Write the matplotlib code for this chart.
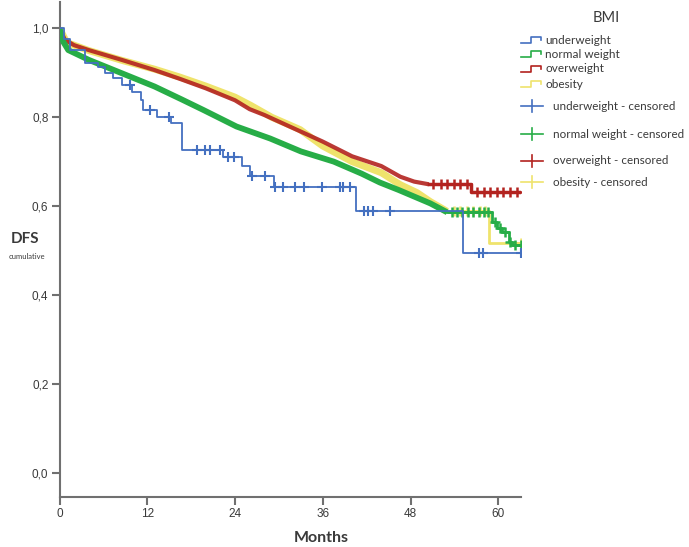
import numpy as np
import matplotlib
matplotlib.use("Agg")
import matplotlib.pyplot as plt

# --- data (months, cumulative DFS) ---
under_t = [0, 0.6, 1.5, 3.5, 5.3, 6.2, 7.3, 8.5, 9.9, 11.2, 11.4, 13.3, 15.3, 16.7,
           22.4, 24.9, 26.1, 29.3, 40.5, 55.2, 63.1]
under_s = [1.0, 0.975, 0.952, 0.922, 0.914, 0.899, 0.888, 0.872, 0.857, 0.839, 0.816,
           0.801, 0.786, 0.726, 0.710, 0.690, 0.668, 0.642, 0.590, 0.495, 0.495]
under_cens = [9.6, 12.4, 15.0, 18.8, 19.9, 20.6, 22.0, 23.1, 23.8, 26.3, 28.1, 29.5, 30.6,
              32.2, 33.4, 35.9, 38.4, 38.8, 39.7, 41.6, 42.2, 42.9, 45.2, 57.4, 57.9, 63.1]

# dense part (hundreds of tiny steps) and sparse tail (visible steps)
normal_t = [0, 0.5, 1.2, 4.0, 8.5, 13.0, 16.7, 19.7, 24.2, 28.8, 33.0, 37.5, 41.3, 43.8,
            46.4, 50.7, 53.0]
normal_s = [1.0, 0.97, 0.951, 0.929, 0.899, 0.869, 0.840, 0.816, 0.779, 0.752, 0.723, 0.700,
            0.673, 0.653, 0.636, 0.606, 0.586]
normal_tail_t = [53.0, 59.1, 59.8, 60.5, 61.4, 61.9, 63.2]
normal_tail_s = [0.586, 0.565, 0.550, 0.542, 0.520, 0.512, 0.512]
normal_cens = [53.6, 54.3, 55.0, 55.8, 56.5, 57.3, 58.0, 58.6, 59.5, 60.2, 60.9, 61.6, 62.3, 63.1]

over_t = [0, 0.75, 2.0, 4.0, 8.5, 13.0, 16.5, 20.0, 24.0, 26.0, 28.0, 32.0, 36.0, 40.0,
          44.0, 46.6, 48.5, 50.5]
over_s = [1.0, 0.974, 0.962, 0.951, 0.929, 0.906, 0.886, 0.865, 0.838, 0.818, 0.805, 0.775,
          0.745, 0.712, 0.690, 0.666, 0.655, 0.649]
over_tail_t = [50.5, 56.2, 63.0]
over_tail_s = [0.649, 0.632, 0.632]
over_cens = [51.1, 52.1, 53.0, 53.9, 54.8, 55.7, 57.1, 58.0, 58.9, 59.8, 60.7, 61.6, 62.5]

obese_t = [0, 1.0, 4.0, 8.5, 13.0, 16.5, 20.0, 24.0, 26.1, 29.0, 32.9, 36.0, 40.0, 44.0,
           46.6, 48.9, 50.7, 53.0]
obese_s = [1.0, 0.968, 0.950, 0.928, 0.908, 0.890, 0.870, 0.845, 0.827, 0.800, 0.772, 0.735,
           0.700, 0.675, 0.648, 0.630, 0.610, 0.588]
obese_tail_t = [53.0, 58.7, 63.2]
obese_tail_s = [0.588, 0.516, 0.516]
obese_cens = [53.9, 54.8, 55.7, 56.6, 57.5, 58.2, 63.1]

xticks = [0, 12, 24, 36, 48, 60]
yticks = [0.0, 0.2, 0.4, 0.6, 0.8, 1.0]
ytick_labels = ["0,0", "0,2", "0,4", "0,6", "0,8", "1,0"]

c_under = "#4470c0"
c_normal = "#27ad47"
c_over = "#b3231f"
c_obese = "#efe36c"
axis_col = "#707070"
text_col = "#3a3a3a"


def surv_at(times, surv, pts):
    idx = np.searchsorted(times, pts, side="right") - 1
    return np.asarray(surv)[idx]


fig = plt.figure(figsize=(6.89, 5.47), dpi=100)
W, H = 689, 547
ax = fig.add_axes([59.5 / W, 1 - 497.3 / H, (521 - 59.5) / W, 495.3 / H])

# yellow under red, green on top of both
ax.plot(obese_t, obese_s, color=c_obese, lw=5.0, solid_capstyle="butt", zorder=2)
ax.step(obese_tail_t, obese_tail_s, where="post", color=c_obese, lw=2.0, zorder=2)
ax.plot(obese_cens, surv_at(obese_tail_t, obese_tail_s, obese_cens), ls="none", marker="+",
        ms=7, mew=1.8, color=c_obese, zorder=2)

ax.plot(over_t, over_s, color=c_over, lw=3.0, alpha=0.9, solid_capstyle="butt", zorder=3)
ax.step(over_tail_t, over_tail_s, where="post", color=c_over, lw=2.5, zorder=3)
ax.plot(over_cens, surv_at(over_tail_t, over_tail_s, over_cens), ls="none", marker="+",
        ms=7, mew=1.8, color=c_over, zorder=3)

ax.plot(normal_t, normal_s, color=c_normal, lw=4.2, solid_capstyle="butt", zorder=4)
ax.step(normal_tail_t, normal_tail_s, where="post", color=c_normal, lw=2.0, zorder=4)
ax.plot(normal_cens, surv_at(normal_tail_t, normal_tail_s, normal_cens), ls="none", marker="+",
        ms=7, mew=1.8, color=c_normal, zorder=4)

# underweight: few patients, clear step curve
ax.step(under_t, under_s, where="post", color=c_under, lw=1.3, zorder=5)
ax.plot(under_cens, surv_at(under_t, under_s, under_cens), ls="none", marker="+",
        ms=7, mew=1.5, color=c_under, zorder=5)

ax.set_xlim(0, 63.1)
ax.set_ylim(-0.0554, 1.0592)
ax.set_xticks(xticks)
ax.set_xticklabels([str(x) for x in xticks], fontsize=8.5, color=text_col, family="Liberation Sans")
ax.set_yticks(yticks)
ax.set_yticklabels(ytick_labels, fontsize=8.5, color=text_col, family="Liberation Sans")
ax.tick_params(axis="both", direction="out", length=6, width=1.5, color=axis_col, pad=2)
for s in ["top", "right"]:
    ax.spines[s].set_visible(False)
for s in ["left", "bottom"]:
    ax.spines[s].set_color(axis_col)
    ax.spines[s].set_linewidth(1.5)
ax.set_facecolor("none")

fig.text(24.5 / W, 1 - 239 / H, "DFS", fontsize=11, fontweight="bold", color=text_col,
         family="Lato", ha="center", va="center")
fig.text(27 / W, 1 - 256 / H, "cumulative", fontsize=5.5, color=text_col,
         family="Lato", ha="center", va="center")
fig.text(321 / W, 1 - 538 / H, "Months", fontsize=11.5, fontweight="bold", color=text_col,
         family="Lato", ha="center", va="center")

# legend drawn in pixel space
lg = fig.add_axes([0, 0, 1, 1], zorder=10)
lg.set_xlim(0, W)
lg.set_ylim(H, 0)
lg.axis("off")
lg.text(606, 18, "BMI", fontsize=10.5, color=text_col, family="Lato", ha="center", va="center")

names = ["underweight", "normal weight", "overweight", "obesity"]
cols = [c_under, c_normal, c_over, c_obese]
step_y = [40, 54, 69, 84]
cens_y = [106, 134, 161, 182]
for name, col, y in zip(names, cols, step_y):
    lg.plot([521, 531, 531, 541, 541], [y + 3, y + 3, y - 3, y - 3, y], color=col, lw=1.2)
    lg.text(545, y, name, fontsize=8.5, color=text_col, family="Lato", va="center")
for name, col, y in zip(names, cols, cens_y):
    lg.plot([521, 543], [y, y], color=col, lw=1.2)
    lg.plot([532, 532], [y - 6, y + 6], color=col, lw=1.2)
    lg.text(553, y, name + " - censored", fontsize=8.4, color=text_col, family="Lato", va="center")

fig.savefig("out.png", dpi=100)
